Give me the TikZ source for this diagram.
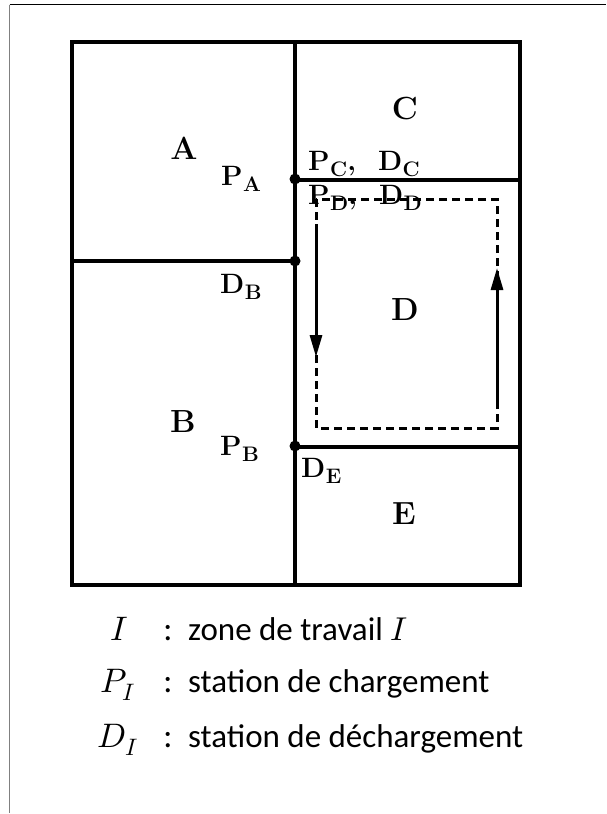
\documentclass[tikz,border=0pt]{standalone}
\usepackage{fontspec}
\usepackage{unicode-math}
\setmathfont{Latin Modern Math}
\newfontfamily\legendfont{Carlito}
\usetikzlibrary{arrows.meta}
\newcommand\lsub[1]{\kern0.5pt\raisebox{-6.5pt}{\fontsize{21}{24}\selectfont\bfseries #1}}
\begin{document}
\begin{tikzpicture}[x=1pt,y=-1pt,
  wall/.style={line width=3.2pt, line cap=rect},
  dashpath/.style={line width=3pt, dash pattern=on 8pt off 5pt},
  flow/.style={line width=3pt, -{Triangle[length=22pt,width=12pt]}},
  station/.style={circle, fill, inner sep=0pt, minimum size=11pt},
  zone/.style={font=\fontsize{32}{36}\selectfont\bfseries, inner sep=0pt, anchor=base},
  lbl/.style={font=\fontsize{28}{32}\selectfont\bfseries, inner sep=0pt, anchor=base west},
  legsym/.style={font=\fontsize{34}{40}\selectfont, inner sep=0pt, anchor=base},
  legtxt/.style={font=\legendfont\fontsize{33}{40}\selectfont, inner sep=0pt, anchor=base west}
]
\useasboundingbox (0,0) rectangle (606,814);
% page frame
\coordinate (f0) at (9.5,4.5);
\coordinate (f1) at (606,4.5);
\coordinate (f2) at (9.5,813);
\draw[black, line width=1.3pt] (f0) -- (f1);
\draw[gray, line width=1.6pt] (f0) -- (f2);

% plan corners
\coordinate (tl) at (72,42);
\coordinate (br) at (520,585);
\coordinate (mt) at (295,42);
\coordinate (mb) at (295,585);
\coordinate (abL) at (72,261);
\coordinate (abR) at (295,261);
\coordinate (cdL) at (295,180);
\coordinate (cdR) at (520,180);
\coordinate (deL) at (295,447);
\coordinate (deR) at (520,447);

\draw[wall] (tl) rectangle (br);
\draw[wall] (mt) -- (mb);
\draw[wall] (abL) -- (abR);
\draw[wall] (cdL) -- (cdR);
\draw[wall] (deL) -- (deR);

% stations
\node[station] (pa) at (295,179) {};
\node[station] (db) at (295,261) {};
\node[station] (pb) at (295,446) {};

% circulation loop in D
\coordinate (l1) at (316,199);
\coordinate (l2) at (497,428);
\draw[dashpath] (l1) rectangle (l2);
\coordinate (ls) at (316,224);
\coordinate (le) at (316,357);
\coordinate (rs) at (497,402);
\coordinate (re) at (497,268);
\draw[flow] (ls) -- (le);
\draw[flow] (rs) -- (re);

% labels
\node[zone] (A) at (184,159) {A};
\node[zone] (B) at (183,432) {B};
\node[zone] (C) at (405,119) {C};
\node[zone] (D) at (405,320) {D};
\node[zone] (E) at (404,524) {E};
\node[lbl] (PA) at (221,185) {P\lsub{A}};
\node[lbl] (DB) at (220,293) {D\lsub{B}};
\node[lbl] (PB) at (220,455) {P\lsub{B}};
\node[lbl] (DE) at (301,477) {D\lsub{E}};
\node[lbl] (PCDC) at (308,170) {P\lsub{C},\hspace{22pt}D\lsub{C}};
\node[lbl] (PDDD) at (308,204) {P\lsub{D},\hspace{22pt}D\lsub{D}};

% legend
\node[legsym] (s1) at (119,640) {$I$};
\node[legsym] (c1) at (168,640) {\legendfont :};
\node[legtxt] (t1) at (188,640) {zone de travail $I$};
\node[legsym] (s2) at (118,692) {$P_I$};
\node[legsym] (c2) at (168,692) {\legendfont :};
\node[legtxt] (t2) at (188,692) {station de chargement};
\node[legsym] (s3) at (118,747) {$D_I$};
\node[legsym] (c3) at (168,747) {\legendfont :};
\node[legtxt] (t3) at (188,747) {station de déchargement};
\end{tikzpicture}
\end{document}
